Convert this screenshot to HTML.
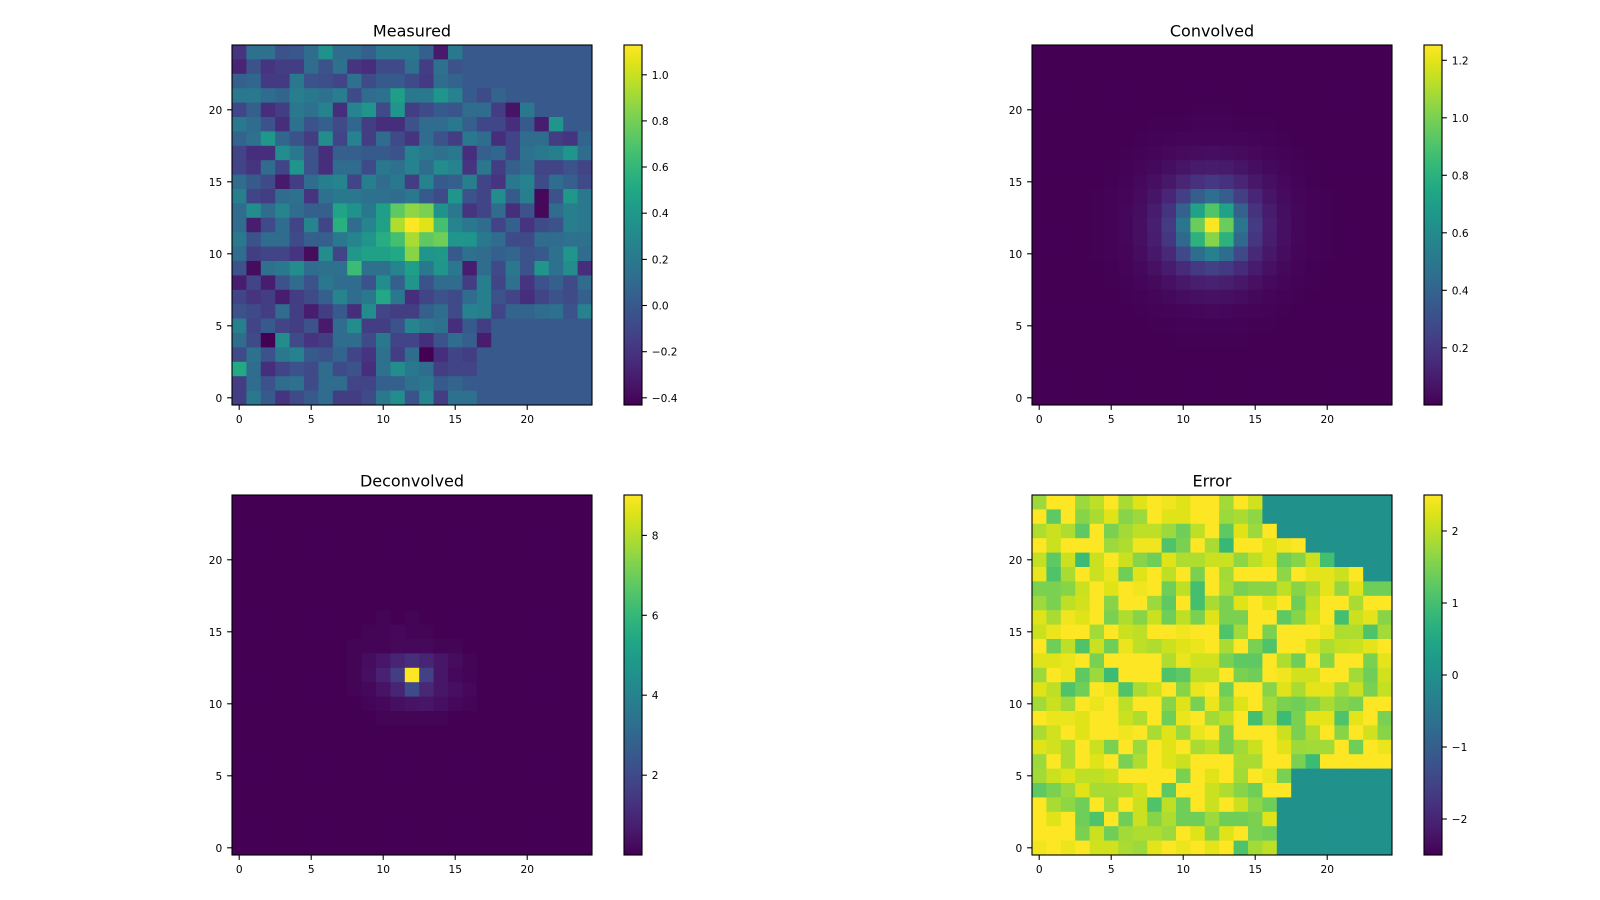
<!DOCTYPE html>
<html><head><meta charset="utf-8"><title>Deconvolution</title>
<style>
html,body{margin:0;padding:0;background:#fff;}
svg{display:block;}
text{font-family:"DejaVu Sans","Liberation Sans",sans-serif;fill:#000;}
.t{font-size:10.6px;}
.ti{font-size:16px;}
.r{text-anchor:end;}
.m{text-anchor:middle;}
</style></head><body>
<svg id="s" width="1600" height="900" viewBox="0 0 1600 900" xmlns="http://www.w3.org/2000/svg">
<defs>
<linearGradient id="vg" x1="0" y1="1" x2="0" y2="0">
<stop offset="0" stop-color="#440154"/><stop offset="0.05" stop-color="#471365"/><stop offset="0.1" stop-color="#482475"/><stop offset="0.15" stop-color="#463480"/><stop offset="0.2" stop-color="#414487"/><stop offset="0.25" stop-color="#3b528b"/><stop offset="0.3" stop-color="#355f8d"/><stop offset="0.35" stop-color="#2f6c8e"/><stop offset="0.4" stop-color="#2a788e"/><stop offset="0.45" stop-color="#25848e"/><stop offset="0.5" stop-color="#21918c"/><stop offset="0.55" stop-color="#1e9c89"/><stop offset="0.6" stop-color="#22a884"/><stop offset="0.65" stop-color="#2fb47c"/><stop offset="0.7" stop-color="#44bf70"/><stop offset="0.75" stop-color="#5ec962"/><stop offset="0.8" stop-color="#7ad151"/><stop offset="0.85" stop-color="#9bd93c"/><stop offset="0.9" stop-color="#bddf26"/><stop offset="0.95" stop-color="#dfe318"/><stop offset="1" stop-color="#fde725"/>
</linearGradient>
</defs>
<rect width="1600" height="900" fill="#fff"/>
<!-- fallback backgrounds -->
<rect x="232" y="45" width="360" height="360" fill="#33638d"/>
<rect x="1032" y="45" width="360" height="360" fill="#450457"/>
<rect x="232" y="495" width="360" height="360" fill="#440154"/>
<rect x="1032" y="495" width="360" height="360" fill="#bddf26"/>
<g id="hm"></g>

<!-- spines -->
<g fill="none" stroke="#000" stroke-width="1.1">
<rect x="232" y="45" width="360" height="360"/>
<rect x="1032" y="45" width="360" height="360"/>
<rect x="232" y="495" width="360" height="360"/>
<rect x="1032" y="495" width="360" height="360"/>
</g>

<!-- colorbars -->
<rect x="624" y="45" width="18" height="360" fill="url(#vg)" stroke="#000" stroke-width="1.1"/>
<rect x="1424" y="45" width="18" height="360" fill="url(#vg)" stroke="#000" stroke-width="1.1"/>
<rect x="624" y="495" width="18" height="360" fill="url(#vg)" stroke="#000" stroke-width="1.1"/>
<rect x="1424" y="495" width="18" height="360" fill="url(#vg)" stroke="#000" stroke-width="1.1"/>

<!-- titles -->
<text class="ti m" x="412" y="36.5">Measured</text>
<text class="ti m" x="1212" y="36.5">Convolved</text>
<text class="ti m" x="412" y="486.5">Deconvolved</text>
<text class="ti m" x="1212" y="486.5">Error</text>

<!-- tick marks -->
<g stroke="#000" stroke-width="1.1">
<line x1="239.2" y1="405" x2="239.2" y2="409.9"/><line x1="311.2" y1="405" x2="311.2" y2="409.9"/><line x1="383.2" y1="405" x2="383.2" y2="409.9"/><line x1="455.2" y1="405" x2="455.2" y2="409.9"/><line x1="527.2" y1="405" x2="527.2" y2="409.9"/>
<line x1="1039.2" y1="405" x2="1039.2" y2="409.9"/><line x1="1111.2" y1="405" x2="1111.2" y2="409.9"/><line x1="1183.2" y1="405" x2="1183.2" y2="409.9"/><line x1="1255.2" y1="405" x2="1255.2" y2="409.9"/><line x1="1327.2" y1="405" x2="1327.2" y2="409.9"/>
<line x1="239.2" y1="855" x2="239.2" y2="859.9"/><line x1="311.2" y1="855" x2="311.2" y2="859.9"/><line x1="383.2" y1="855" x2="383.2" y2="859.9"/><line x1="455.2" y1="855" x2="455.2" y2="859.9"/><line x1="527.2" y1="855" x2="527.2" y2="859.9"/>
<line x1="1039.2" y1="855" x2="1039.2" y2="859.9"/><line x1="1111.2" y1="855" x2="1111.2" y2="859.9"/><line x1="1183.2" y1="855" x2="1183.2" y2="859.9"/><line x1="1255.2" y1="855" x2="1255.2" y2="859.9"/><line x1="1327.2" y1="855" x2="1327.2" y2="859.9"/>
<line x1="227.1" y1="397.8" x2="232" y2="397.8"/><line x1="227.1" y1="325.8" x2="232" y2="325.8"/><line x1="227.1" y1="253.8" x2="232" y2="253.8"/><line x1="227.1" y1="181.8" x2="232" y2="181.8"/><line x1="227.1" y1="109.8" x2="232" y2="109.8"/>
<line x1="1027.1" y1="397.8" x2="1032" y2="397.8"/><line x1="1027.1" y1="325.8" x2="1032" y2="325.8"/><line x1="1027.1" y1="253.8" x2="1032" y2="253.8"/><line x1="1027.1" y1="181.8" x2="1032" y2="181.8"/><line x1="1027.1" y1="109.8" x2="1032" y2="109.8"/>
<line x1="227.1" y1="847.8" x2="232" y2="847.8"/><line x1="227.1" y1="775.8" x2="232" y2="775.8"/><line x1="227.1" y1="703.8" x2="232" y2="703.8"/><line x1="227.1" y1="631.8" x2="232" y2="631.8"/><line x1="227.1" y1="559.8" x2="232" y2="559.8"/>
<line x1="1027.1" y1="847.8" x2="1032" y2="847.8"/><line x1="1027.1" y1="775.8" x2="1032" y2="775.8"/><line x1="1027.1" y1="703.8" x2="1032" y2="703.8"/><line x1="1027.1" y1="631.8" x2="1032" y2="631.8"/><line x1="1027.1" y1="559.8" x2="1032" y2="559.8"/>
<line x1="642" y1="74.8" x2="646.9" y2="74.8"/><line x1="642" y1="120.9" x2="646.9" y2="120.9"/><line x1="642" y1="167" x2="646.9" y2="167"/><line x1="642" y1="213.2" x2="646.9" y2="213.2"/><line x1="642" y1="259.4" x2="646.9" y2="259.4"/><line x1="642" y1="305.5" x2="646.9" y2="305.5"/><line x1="642" y1="351.7" x2="646.9" y2="351.7"/><line x1="642" y1="397.8" x2="646.9" y2="397.8"/>
<line x1="1442" y1="60.3" x2="1446.9" y2="60.3"/><line x1="1442" y1="117.8" x2="1446.9" y2="117.8"/><line x1="1442" y1="175.3" x2="1446.9" y2="175.3"/><line x1="1442" y1="232.8" x2="1446.9" y2="232.8"/><line x1="1442" y1="290.3" x2="1446.9" y2="290.3"/><line x1="1442" y1="347.8" x2="1446.9" y2="347.8"/>
<line x1="642" y1="535.4" x2="646.9" y2="535.4"/><line x1="642" y1="615.3" x2="646.9" y2="615.3"/><line x1="642" y1="695.2" x2="646.9" y2="695.2"/><line x1="642" y1="775.2" x2="646.9" y2="775.2"/>
<line x1="1442" y1="531" x2="1446.9" y2="531"/><line x1="1442" y1="603" x2="1446.9" y2="603"/><line x1="1442" y1="675" x2="1446.9" y2="675"/><line x1="1442" y1="747" x2="1446.9" y2="747"/><line x1="1442" y1="819" x2="1446.9" y2="819"/>
</g>

<!-- x tick labels -->
<text class="t m" x="239.2" y="422.8">0</text><text class="t m" x="311.2" y="422.8">5</text><text class="t m" x="383.2" y="422.8">10</text><text class="t m" x="455.2" y="422.8">15</text><text class="t m" x="527.2" y="422.8">20</text>
<text class="t m" x="1039.2" y="422.8">0</text><text class="t m" x="1111.2" y="422.8">5</text><text class="t m" x="1183.2" y="422.8">10</text><text class="t m" x="1255.2" y="422.8">15</text><text class="t m" x="1327.2" y="422.8">20</text>
<text class="t m" x="239.2" y="872.8">0</text><text class="t m" x="311.2" y="872.8">5</text><text class="t m" x="383.2" y="872.8">10</text><text class="t m" x="455.2" y="872.8">15</text><text class="t m" x="527.2" y="872.8">20</text>
<text class="t m" x="1039.2" y="872.8">0</text><text class="t m" x="1111.2" y="872.8">5</text><text class="t m" x="1183.2" y="872.8">10</text><text class="t m" x="1255.2" y="872.8">15</text><text class="t m" x="1327.2" y="872.8">20</text>
<!-- y tick labels -->
<text class="t r" x="222.2" y="401.8">0</text><text class="t r" x="222.2" y="329.8">5</text><text class="t r" x="222.2" y="257.8">10</text><text class="t r" x="222.2" y="185.8">15</text><text class="t r" x="222.2" y="113.8">20</text>
<text class="t r" x="1022.2" y="401.8">0</text><text class="t r" x="1022.2" y="329.8">5</text><text class="t r" x="1022.2" y="257.8">10</text><text class="t r" x="1022.2" y="185.8">15</text><text class="t r" x="1022.2" y="113.8">20</text>
<text class="t r" x="222.2" y="851.8">0</text><text class="t r" x="222.2" y="779.8">5</text><text class="t r" x="222.2" y="707.8">10</text><text class="t r" x="222.2" y="635.8">15</text><text class="t r" x="222.2" y="563.8">20</text>
<text class="t r" x="1022.2" y="851.8">0</text><text class="t r" x="1022.2" y="779.8">5</text><text class="t r" x="1022.2" y="707.8">10</text><text class="t r" x="1022.2" y="635.8">15</text><text class="t r" x="1022.2" y="563.8">20</text>

<!-- colorbar labels -->
<text class="t" x="651.8" y="78.8">1.0</text><text class="t" x="651.8" y="124.9">0.8</text><text class="t" x="651.8" y="171">0.6</text><text class="t" x="651.8" y="217.2">0.4</text><text class="t" x="651.8" y="263.4">0.2</text><text class="t" x="651.8" y="309.5">0.0</text><text class="t" x="651.8" y="355.7">−0.2</text><text class="t" x="651.8" y="401.8">−0.4</text>
<text class="t" x="1451.8" y="64.3">1.2</text><text class="t" x="1451.8" y="121.8">1.0</text><text class="t" x="1451.8" y="179.3">0.8</text><text class="t" x="1451.8" y="236.8">0.6</text><text class="t" x="1451.8" y="294.3">0.4</text><text class="t" x="1451.8" y="351.8">0.2</text>
<text class="t" x="651.8" y="539.4">8</text><text class="t" x="651.8" y="619.3">6</text><text class="t" x="651.8" y="699.2">4</text><text class="t" x="651.8" y="779.2">2</text>
<text class="t" x="1451.8" y="535">2</text><text class="t" x="1451.8" y="607">1</text><text class="t" x="1451.8" y="679">0</text><text class="t" x="1451.8" y="751">−1</text><text class="t" x="1451.8" y="823">−2</text>
</svg>
<script>
(function(){
var V=[[68,1,84],[71,19,101],[72,36,117],[70,52,128],[65,68,135],[59,82,139],[53,95,141],[47,108,142],[42,120,142],[37,132,142],[33,145,140],[30,156,137],[34,168,132],[47,180,124],[68,191,112],[94,201,98],[122,209,81],[155,217,60],[189,223,38],[223,227,24],[253,231,37]];
function vir(t){t=Math.max(0,Math.min(1,t));var x=t*20,i=Math.min(19,Math.floor(x)),f=x-i,a=V[i],b=V[i+1];
return 'rgb('+Math.round(a[0]+(b[0]-a[0])*f)+','+Math.round(a[1]+(b[1]-a[1])*f)+','+Math.round(a[2]+(b[2]-a[2])*f)+')';}
var NS='http://www.w3.org/2000/svg',g=document.getElementById('hm');
function cell(x0,y0,i,c,t){var r=document.createElementNS(NS,'rect');
r.setAttribute('x',(x0+c*14.4).toFixed(2));r.setAttribute('y',(y0+i*14.4).toFixed(2));
r.setAttribute('width',c==24?'14.4':'14.9');r.setAttribute('height',i==24?'14.4':'14.9');
r.setAttribute('fill',vir(t));g.appendChild(r);}
function grid(x0,y0,rows){rows.forEach(function(row,i){row.trim().split(/\s+/).forEach(function(v,c){
var t=v==='B'?27.5:(v==='T'?50:+v);cell(x0,y0,i,c,t/100);});});}
var M=[
"15 37 37 25 27 35 50 35 35 30 40 40 40 30 7 40 B B B B B B B B B",
"10 25 15 18 18 35 25 37 15 13 22 22 37 18 37 25 B B B B B B B B B",
"30 33 17 17 40 25 24 20 37 22 28 28 22 17 35 32 B B B B B B B B B",
"40 40 35 32 42 40 37 42 22 35 37 56 40 40 52 44 28 23 32 B B B B B B",
"21 30 13 18 40 37 44 13 45 52 22 52 18 22 28 26 35 35 18 5 40 B B B B",
"40 35 25 13 37 25 30 22 33 18 13 13 25 35 35 40 30 21 21 13 28 8 52 28 B",
"32 37 53 33 25 18 48 20 44 18 35 22 15 35 25 18 40 35 13 20 35 35 18 15 32",
"20 13 13 48 40 25 13 30 30 28 28 25 44 40 37 40 13 30 33 20 37 40 43 52 35",
"20 15 35 20 52 25 13 35 35 22 40 37 44 35 48 45 15 40 18 30 35 20 20 25 20",
"35 28 22 7 18 35 43 45 20 43 35 40 18 44 28 30 43 20 15 40 44 22 35 30 22",
"43 20 18 35 37 15 37 40 40 37 37 35 40 28 22 52 25 20 48 28 43 2 25 53 40",
"35 48 35 45 35 30 30 58 50 40 56 75 83 80 50 40 15 20 35 13 25 2 35 43 40",
"35 8 22 35 20 45 20 63 35 45 57 88 100 95 70 45 40 35 20 30 15 22 25 43 40",
"40 25 35 35 22 30 30 40 45 52 62 70 87 75 78 52 52 40 35 22 22 35 35 37 37",
"35 18 20 20 15 3 48 20 53 57 57 60 82 52 53 28 37 35 30 33 25 28 37 52 35",
"25 3 37 40 48 35 37 37 68 37 37 45 56 40 52 40 8 35 22 40 25 52 37 48 13",
"8 20 8 25 35 25 40 35 35 25 48 30 52 25 35 35 18 43 20 37 15 25 30 22 35",
"20 15 18 8 18 22 30 45 35 40 60 40 13 20 25 22 35 43 25 20 13 20 25 22 30",
"25 22 18 35 18 8 18 28 13 48 20 18 18 30 35 22 44 43 20 32 32 35 37 25 44",
"43 20 28 20 18 25 7 35 48 18 18 25 45 40 37 13 28 18 B B B B B B B",
"35 22 0 48 22 15 18 35 35 22 40 20 20 13 25 35 30 8 B B B B B B B",
"22 37 25 40 44 28 25 32 20 15 37 18 35 0 13 20 18 B B B B B B B B",
"60 35 13 20 25 22 35 22 25 13 37 48 40 35 18 20 20 B B B B B B B B",
"18 35 25 35 37 22 35 35 20 20 30 30 37 40 28 32 28 B B B B B B B B",
"18 40 28 15 22 28 35 18 18 22 40 48 25 45 18 37 37 B B B B B B B B"];
var E=[
"85 100 100 85 90 100 87 95 100 98 95 100 100 86 100 93 T T T T T T T T T",
"100 75 100 82 87 95 82 85 100 95 95 100 100 85 87 83 T T T T T T T T T",
"88 92 88 75 100 80 86 90 90 85 78 90 100 75 95 85 100 T T T T T T T T",
"100 92 100 100 100 85 88 98 98 72 80 100 87 67 100 100 95 98 100 T T T T T T",
"91 75 92 68 92 100 92 82 78 95 88 88 92 92 83 90 95 78 82 92 70 T T T T",
"97 72 87 100 92 97 78 95 100 90 100 80 100 86 100 100 100 83 100 96 96 92 100 T T",
"80 80 82 92 100 95 100 98 100 78 90 70 100 87 80 82 82 90 82 87 96 84 95 78 78",
"85 80 90 93 100 82 100 100 85 75 100 70 87 80 95 100 95 100 78 91 100 100 87 100 100",
"95 87 98 95 100 80 88 82 92 78 90 80 95 80 80 100 100 75 82 93 100 70 92 96 82",
"92 97 100 100 86 100 92 90 100 100 98 100 100 72 86 100 80 100 100 100 97 88 88 72 86",
"100 78 90 72 92 78 97 90 88 92 95 97 100 87 100 80 72 100 100 93 88 91 92 96 100",
"95 95 97 100 80 100 100 100 100 88 97 93 93 80 75 75 100 88 78 100 82 100 100 80 96",
"85 100 97 75 85 68 100 100 100 72 75 90 90 100 80 78 100 98 93 93 100 100 86 78 93",
"95 90 72 78 100 97 72 87 92 100 82 97 100 78 100 100 82 95 87 96 96 86 92 80 91",
"86 92 86 100 97 100 90 100 100 82 95 80 97 83 95 100 86 80 78 82 87 82 80 100 100",
"100 97 97 95 100 100 92 88 100 78 97 100 86 90 100 70 86 68 80 96 96 72 96 100 80",
"87 93 100 95 100 100 98 100 87 95 85 97 100 80 100 100 100 92 80 88 100 82 100 93 82",
"95 93 88 100 92 80 100 85 100 95 100 87 90 80 86 92 100 95 85 86 86 100 78 100 97",
"85 100 88 100 95 100 80 88 100 95 92 100 100 100 87 87 100 100 80 68 100 100 100 100 100",
"86 92 95 90 90 92 100 100 100 100 80 100 95 100 86 100 97 80 T T T T T T T",
"75 80 85 95 87 87 88 93 100 75 100 100 92 88 82 78 100 100 T T T T T T T",
"100 87 83 78 100 86 100 92 72 90 78 100 92 100 92 83 78 T T T T T T T T",
"100 95 100 78 72 100 78 92 82 88 78 78 85 78 78 80 95 T T T T T T T T",
"100 100 100 80 92 78 86 88 88 85 100 95 82 95 100 80 78 T T T T T T T T",
"98 100 97 100 93 93 87 85 96 100 97 100 96 100 72 86 90 T T T T T T T T"];
grid(232,45,M);
grid(1032,495,E);
// Convolved: smooth blob
for(var i=0;i<25;i++){for(var c=0;c<25;c++){var row=24-i,dx=c-12,dy=row-11.88,r2=dx*dx+dy*dy;
var v=0.91*Math.exp(-r2/3.04)+0.34*Math.exp(-r2/13);cell(1032,45,i,c,v/1.253);}}
// Deconvolved
var D={16:"0 0 0 1 0 1 0 0 0 0",15:"0 0 1 1 2 1 1 0 0 0",14:"0 1 1 1 2 2 2 1 1 0",13:"0 1 3 6 10 13 10 6 3 1",
12:"0 1 4 9 18 100 19 6 2 1",11:"0 1 2 5 10 22 11 6 4 2",10:"0 0 1 2 4 5 6 4 2 1",9:"0 0 0 1 1 1 1 1 0 0",8:"0 0 0 0 0 0 0 0 0 0"};
for(var i=0;i<25;i++){var row=24-i,vals=D[row]?D[row].split(' '):null;for(var c=0;c<25;c++){var t=0;
if(vals&&c>=7&&c<=16)t=+vals[c-7];cell(232,495,i,c,t/100);}}
})();
</script>
</body></html>
